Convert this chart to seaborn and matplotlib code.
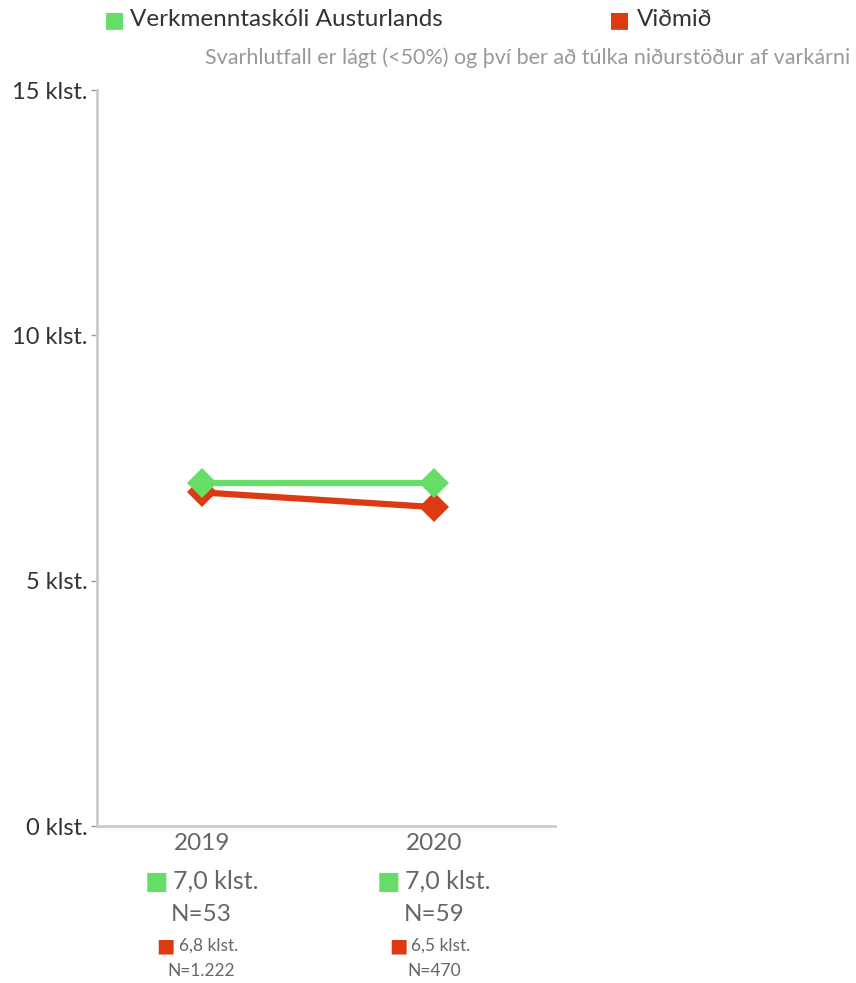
import matplotlib
matplotlib.use("Agg")
import matplotlib.pyplot as plt
import pandas as pd
import seaborn as sns

# gögn lesin af myndinni
years = ["2019", "2020"]
school_name = "Verkmenntaskóli Austurlands"
ref_name = "Viðmið"
school_values = [7.0, 7.0]
ref_values = [6.8, 6.5]
school_n = ["N=53", "N=59"]
ref_n = ["N=1.222", "N=470"]
school_labels = ["7,0 klst.", "7,0 klst."]
ref_labels = ["6,8 klst.", "6,5 klst."]
y_ticks = [0, 5, 10, 15]
y_tick_labels = ["0 klst.", "5 klst.", "10 klst.", "15 klst."]
note = "Svarhlutfall er lágt (<50%) og því ber að túlka niðurstöður af varkárni"

GREEN = "#66dd66"
RED = "#dd3a13"

sns.set_style("white")
plt.rcParams['font.family'] = ['Lato', 'DejaVu Sans']

df = pd.DataFrame({
    "pos": list(range(len(years))) * 2,
    "value": school_values + ref_values,
    "series": [school_name] * len(years) + [ref_name] * len(years),
})

fig = plt.figure(figsize=(8.56, 9.83), dpi=100)
ax = fig.add_axes([0.1133, 0.1597, 0.5350, 0.7487])

sns.lineplot(data=df, x="pos", y="value", hue="series",
             palette={school_name: GREEN, ref_name: RED},
             hue_order=[ref_name, school_name],
             marker="D", markersize=15, markeredgewidth=0,
             linewidth=4.5, legend=False, ax=ax)

ax.set_xlim(-0.45, 1.52)
ax.set_ylim(0, 15)
ax.set_xlabel("")
ax.set_ylabel("")
ax.set_yticks(y_ticks)
ax.set_yticklabels(y_tick_labels, fontsize=17, color="#333333")
ax.set_xticks(range(len(years)))
ax.set_xticklabels(years, fontsize=17.5, color="#666666")
ax.tick_params(axis="y", length=4, width=1, color="#999999", pad=3, left=True)
ax.tick_params(axis="x", length=0, pad=5)

for side in ["top", "right"]:
    ax.spines[side].set_visible(False)
for side in ["left", "bottom"]:
    ax.spines[side].set_color("#cccccc")
    ax.spines[side].set_linewidth(2)

# gildi og fjöldi undir x-ás
for i in range(len(years)):
    ax.annotate("■", xy=(i, 0), xycoords=("data", "axes fraction"),
                xytext=(-45, -55), textcoords="offset pixels",
                ha="center", va="center", color=GREEN, fontsize=18)
    ax.annotate(school_labels[i], xy=(i, 0), xycoords=("data", "axes fraction"),
                xytext=(-29, -55), textcoords="offset pixels",
                ha="left", va="center", color="#666666", fontsize=18)
    ax.annotate(school_n[i], xy=(i, 0), xycoords=("data", "axes fraction"),
                xytext=(0, -88), textcoords="offset pixels",
                ha="center", va="center", color="#666666", fontsize=17.5)
    ax.annotate("■", xy=(i, 0), xycoords=("data", "axes fraction"),
                xytext=(-36, -120), textcoords="offset pixels",
                ha="center", va="center", color=RED, fontsize=14)
    ax.annotate(ref_labels[i], xy=(i, 0), xycoords=("data", "axes fraction"),
                xytext=(-23, -120), textcoords="offset pixels",
                ha="left", va="center", color="#666666", fontsize=12.5)
    ax.annotate(ref_n[i], xy=(i, 0), xycoords=("data", "axes fraction"),
                xytext=(0, -145), textcoords="offset pixels",
                ha="center", va="center", color="#666666", fontsize=12.5)

# skýringar efst
fig.text(104 / 856, 1 - 20 / 983, "■", color=GREEN, fontsize=16, va="center", ha="left")
fig.text(130 / 856, 1 - 20 / 983, school_name, color="#333333", fontsize=17.5, va="center", ha="left")
fig.text(609 / 856, 1 - 20 / 983, "■", color=RED, fontsize=16, va="center", ha="left")
fig.text(637 / 856, 1 - 20 / 983, ref_name, color="#333333", fontsize=17.5, va="center", ha="left")
fig.text(850 / 856, 1 - 58 / 983, note, color="#999999", fontsize=15.5, va="center", ha="right")

fig.savefig("out.png", dpi=100)
